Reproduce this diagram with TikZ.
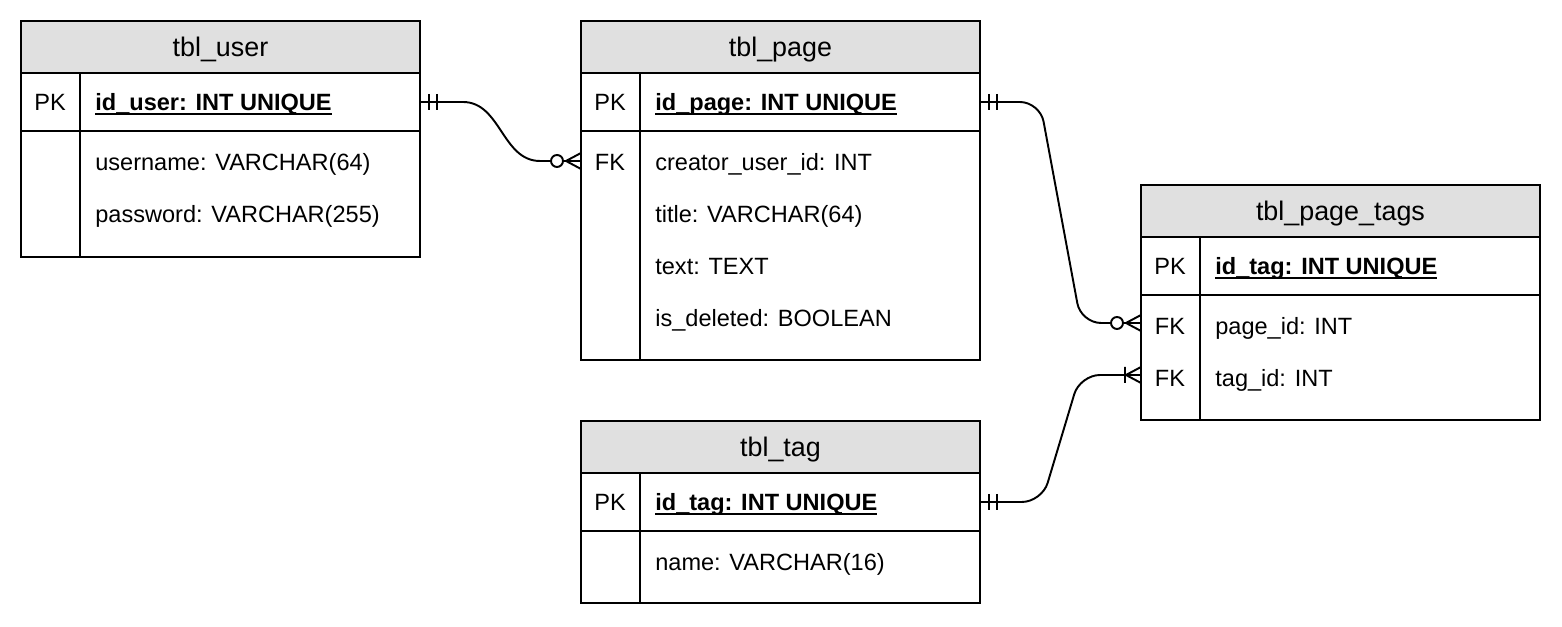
\documentclass[tikz,border=0pt]{standalone}
\usepackage{fontspec}
\setmainfont{Liberation Sans}
\usetikzlibrary{positioning, calc}
\definecolor{headgray}{RGB}{224,224,224}
\newcommand{\pkfield}[1]{\setbox0\hbox{\textbf{#1}}%
  \rlap{\rule[-2.4pt]{\wd0}{1.1pt}}\box0}

\tikzset{
  tblbox/.style={draw, line width=1.1pt, minimum width=7.98cm, inner sep=0pt,
    outer sep=0pt, anchor=north west},
  tblhead/.style={tblbox, fill=headgray, minimum height=1.04cm,
    font=\fontsize{15.3}{18}\selectfont, text height=11pt, text depth=0pt},
  keylbl/.style={inner sep=0pt, font=\fontsize{13.4}{16}\selectfont,
    text height=9.6pt, text depth=0pt},
  fieldlbl/.style={keylbl, anchor=west},
  relline/.style={line width=1.1pt},
  mandone/.pic={\draw[relline] (9,-8) -- (9,8) (17,-8) -- (17,8);},
  zeromany/.pic={\draw[relline] (-24,0) circle[radius=0.12cm]
    (-18,0) -- (0,0) (-15,0) -- (0,-8) (-15,0) -- (0,8);},
  onemany/.pic={\draw[relline] (-16,-8) -- (-16,8)
    (-16,0) -- (0,0) (-15,0) -- (0,-8) (-15,0) -- (0,8);}
}

\begin{document}
\begin{tikzpicture}[x=0.02cm, y=-0.02cm]
  \useasboundingbox (0,0) rectangle (1562,626);

  % tbl_user
  \node[tblhead] (user-head) at (21,21) {tbl\_user};
  \node[tblbox, minimum height=1.16cm] (user-pk) at (user-head.south west) {};
  \node[tblbox, minimum height=2.52cm] (user-body) at (user-pk.south west) {};
  \draw[relline] ($(user-pk.north west)+(59,0)$) -- ($(user-body.south west)+(59,0)$);
  \node[keylbl] (user-k1) at ($(user-pk.west)+(29,0)$) {PK};
  \node[fieldlbl] (user-id) at ($(user-pk.west)+(74,0)$) {\pkfield{id\_user: INT UNIQUE}};
  \node[fieldlbl] (user-f1) at ($(user-body.north west)+(74,31)$) {username: VARCHAR(64)};
  \node[fieldlbl] (user-f2) at ($(user-body.north west)+(74,83)$) {password: VARCHAR(255)};

  % tbl_page
  \node[tblhead] (page-head) at (581,21) {tbl\_page};
  \node[tblbox, minimum height=1.16cm] (page-pk) at (page-head.south west) {};
  \node[tblbox, minimum height=4.58cm] (page-body) at (page-pk.south west) {};
  \draw[relline] ($(page-pk.north west)+(59,0)$) -- ($(page-body.south west)+(59,0)$);
  \node[keylbl] (page-k1) at ($(page-pk.west)+(29,0)$) {PK};
  \node[keylbl] (page-k2) at ($(page-body.north west)+(29,31)$) {FK};
  \node[fieldlbl] (page-id) at ($(page-pk.west)+(74,0)$) {\pkfield{id\_page: INT UNIQUE}};
  \node[fieldlbl] (page-f1) at ($(page-body.north west)+(74,31)$) {creator\_user\_id: INT};
  \node[fieldlbl] (page-f2) at ($(page-body.north west)+(74,83)$) {title: VARCHAR(64)};
  \node[fieldlbl] (page-f3) at ($(page-body.north west)+(74,135)$) {text: TEXT};
  \node[fieldlbl] (page-f4) at ($(page-body.north west)+(74,187)$) {is\_deleted: BOOLEAN};

  % tbl_page_tags
  \node[tblhead] (tags-head) at (1141,185) {tbl\_page\_tags};
  \node[tblbox, minimum height=1.16cm] (tags-pk) at (tags-head.south west) {};
  \node[tblbox, minimum height=2.5cm] (tags-body) at (tags-pk.south west) {};
  \draw[relline] ($(tags-pk.north west)+(59,0)$) -- ($(tags-body.south west)+(59,0)$);
  \node[keylbl] (tags-k1) at ($(tags-pk.west)+(29,0)$) {PK};
  \node[keylbl] (tags-k2) at ($(tags-body.north west)+(29,31)$) {FK};
  \node[keylbl] (tags-k3) at ($(tags-body.north west)+(29,83)$) {FK};
  \node[fieldlbl] (tags-id) at ($(tags-pk.west)+(74,0)$) {\pkfield{id\_tag: INT UNIQUE}};
  \node[fieldlbl] (tags-f1) at ($(tags-body.north west)+(74,31)$) {page\_id: INT};
  \node[fieldlbl] (tags-f2) at ($(tags-body.north west)+(74,83)$) {tag\_id: INT};

  % tbl_tag
  \node[tblhead] (tag-head) at (581,421) {tbl\_tag};
  \node[tblbox, minimum height=1.16cm] (tag-pk) at (tag-head.south west) {};
  \node[tblbox, minimum height=1.44cm] (tag-body) at (tag-pk.south west) {};
  \draw[relline] ($(tag-pk.north west)+(59,0)$) -- ($(tag-body.south west)+(59,0)$);
  \node[keylbl] (tag-k1) at ($(tag-pk.west)+(29,0)$) {PK};
  \node[fieldlbl] (tag-id) at ($(tag-pk.west)+(74,0)$) {\pkfield{id\_tag: INT UNIQUE}};
  \node[fieldlbl] (tag-f1) at ($(tag-body.north west)+(74,31)$) {name: VARCHAR(16)};

  % relations
  \coordinate (c-user-page) at ($(page-body.west |- page-k2)+(0,-1)$);
  \coordinate (c-page-tags) at ($(tags-body.west |- tags-k2)+(0,-3)$);
  \coordinate (c-tag-tags) at ($(tags-body.west |- tags-k3)+(0,-3)$);

  \draw[relline] (user-pk.east) -- ++(43,0) to[out=0, in=180]
    ($(c-user-page)+(-41,0)$) -- ($(c-user-page)+(-30,0)$);
  \pic at (user-pk.east) {mandone};
  \pic at (c-user-page) {zeromany};

  \draw[relline, rounded corners=0.4cm] (page-pk.east) -- ++(60,0)
    -- ($(c-page-tags)+(-60,0)$) -- ($(c-page-tags)+(-30,0)$);
  \pic at (page-pk.east) {mandone};
  \pic at (c-page-tags) {zeromany};

  \draw[relline, rounded corners=0.4cm] (tag-pk.east) -- ++(62,0)
    -- ($(c-tag-tags)+(-61,0)$) -- (c-tag-tags);
  \pic at (tag-pk.east) {mandone};
  \pic at (c-tag-tags) {onemany};
\end{tikzpicture}
\end{document}
